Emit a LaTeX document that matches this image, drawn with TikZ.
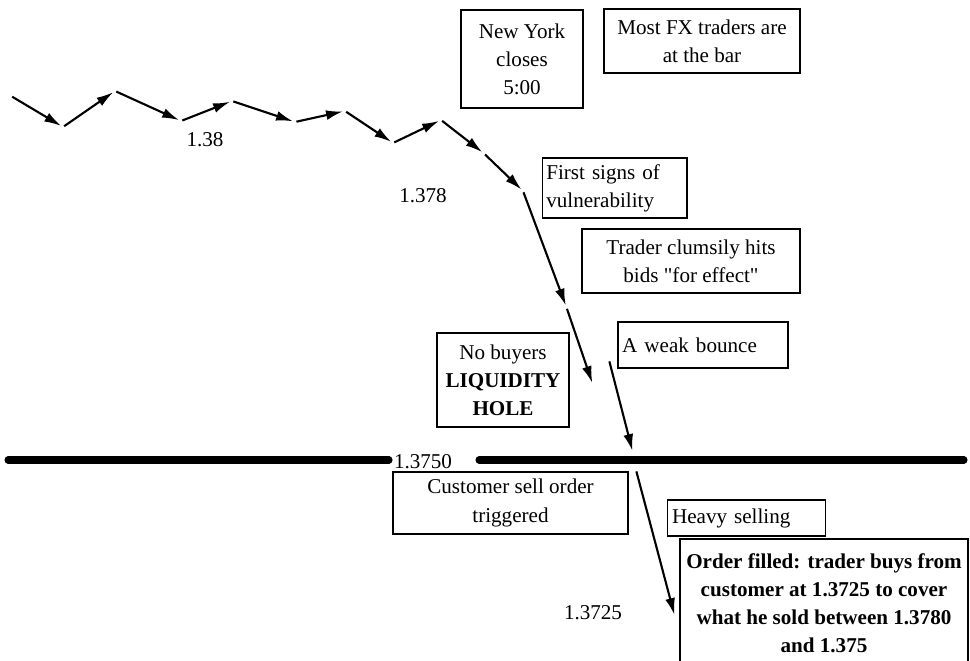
\documentclass[tikz,border=0pt]{standalone}
\usepackage{fontspec}
\setmainfont{Liberation Serif}[Ligatures=TeXOff]
\usetikzlibrary{arrows.meta}

\begin{document}
\begin{tikzpicture}[x=0.025cm,y=-0.025cm,
    font=\fontsize{15}{20}\selectfont,
    box/.style={draw,line width=0.8pt,inner sep=3pt,align=center},
    move/.style={line width=1.5pt,-{Latex[length=12pt,width=7pt]},shorten <=1pt,shorten >=1.5pt},
    level/.style={line width=5pt,line cap=round}]
\useasboundingbox (0,0) rectangle (970,661);
\clip (0,0) rectangle (970,661);

% price path
\coordinate (p0) at (11,96);
\coordinate (p1) at (63,127);
\coordinate (p2) at (115,91);
\coordinate (p3) at (181,121);
\coordinate (p4) at (232,101);
\coordinate (p5) at (295,122);
\coordinate (p6) at (345,111);
\coordinate (p7) at (393,143);
\coordinate (p8) at (441,120);
\coordinate (p9) at (484,153.5);
\coordinate (p10) at (523,191);
\coordinate (p11) at (566.5,307.5);
\coordinate (p12) at (593,385);
\coordinate (b0) at (609,360);
\coordinate (b1) at (633,453);
\coordinate (b2) at (636,470);
\coordinate (b3) at (675,617);
\foreach \a/\b in {p0/p1,p1/p2,p2/p3,p3/p4,p4/p5,p5/p6,p6/p7,p7/p8,p8/p9,p9/p10,p10/p11,p11/p12,b0/b1,b2/b3}
  \draw[move] (\a) -- (\b);

% price labels
\node (lbl138) at (205,140) {1.38};
\node (lbl1378) at (423,196) {1.378};
\node (lbl13750) at (423,462) {1.3750};
\node (lbl13725) at (593,613) {1.3725};

% the 1.3750 level
\coordinate (lvlL) at (8,460);
\coordinate (lvlM) at (479,460);
\coordinate (lvlR) at (964,460);
\draw[level] (lvlL) -- (lbl13750.west |- lvlL);
\draw[level] (lvlM) -- (lvlR);

% boxes
\node[box,minimum width=3.05cm,minimum height=2.45cm] (nyclose) at (522,59) {New York\\closes\\5:00};
\node[box,minimum width=4.9cm,minimum height=1.6cm] (atbar) at (702,41) {Most FX traders are\\at the bar};
\node[box,align=left,text width=3.41cm,minimum height=1.5cm] (firstsigns) at (614.5,188) {First signs of\\vulnerability};
\node[box,minimum width=5.45cm,minimum height=1.6cm] (clumsy) at (691,261) {Trader clumsily hits\\bids "for effect"};
\node[box,align=left,text width=4.04cm,minimum height=1.15cm] (bounce) at (703,345) {A weak bounce};
\node[box,minimum width=3.3cm,minimum height=2.35cm] (nobuyers) at (503,380) {No buyers\\\textbf{LIQUIDITY}\\\textbf{HOLE}};
\node[box,minimum width=5.875cm,minimum height=1.55cm] (custorder) at (510.5,503) {Customer sell order\\triggered};
\node[box,align=left,text width=3.72cm,minimum height=0.9cm] (heavy) at (746.5,518) {Heavy selling};
\node[box,minimum width=7.2cm,minimum height=3.225cm,font=\fontsize{15}{20}\selectfont\bfseries] (filled) at (824,603.5)
  {Order filled: trader buys from\\customer at 1.3725 to cover\\what he sold between 1.3780\\and 1.375};
\end{tikzpicture}
\end{document}
